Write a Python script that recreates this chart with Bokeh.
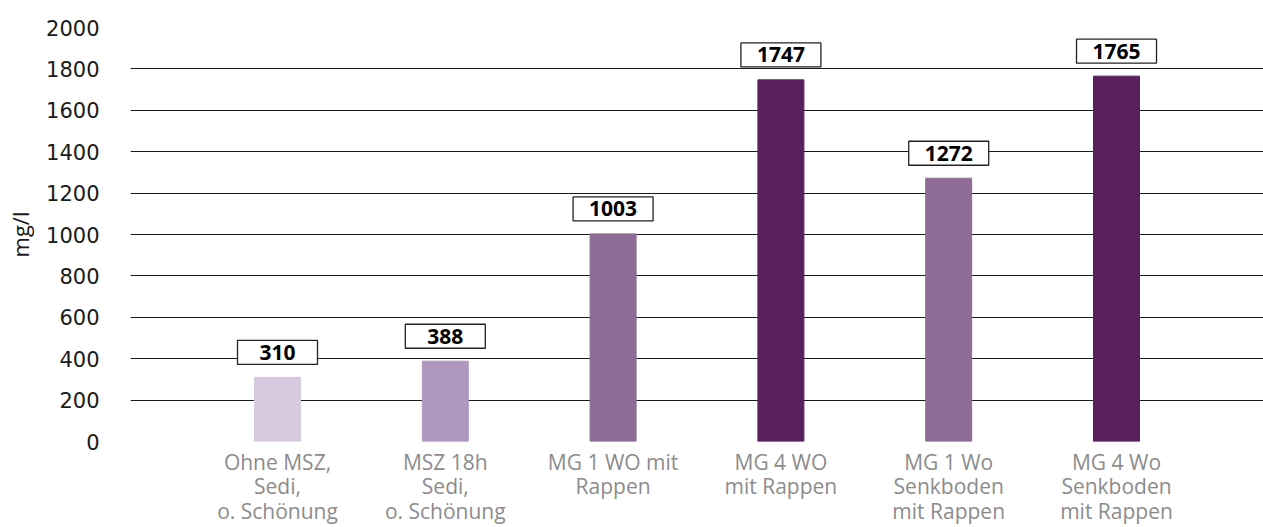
from bokeh.plotting import figure
from bokeh.models import Range1d, FixedTicker, ColumnDataSource
from bokeh.core.properties import value
from bokeh.embed import file_html
from bokeh.resources import INLINE

categories = ["Ohne MSZ,\nSedi,\no. Schönung", "MSZ 18h\nSedi,\no. Schönung",
              "MG 1 WO mit\nRappen", "MG 4 WO\nmit Rappen",
              "MG 1 Wo\nSenkboden\nmit Rappen", "MG 4 Wo\nSenkboden\nmit Rappen"]
values = [310, 388, 1003, 1747, 1272, 1765]
colors = ["#D7CADF", "#AF98BE", "#8E6C96", "#5A1F5F", "#8E6C96", "#5A1F5F"]
y_ticks = [0, 200, 400, 600, 800, 1000, 1200, 1400, 1600, 1800, 2000]

FONT = "Open Sans"
W, H = 1263, 527
ML, MR, MT, MB = 130, 0, 27, 85
plot_h = H - MT - MB
ymax = 2000
px = ymax / plot_h  # data units per pixel

xs = list(range(len(values)))
src = ColumnDataSource(dict(x=xs, top=values, color=colors,
                            ly=[v + 25 * px for v in values],
                            txt=[str(v) for v in values]))

p = figure(width=W, height=H, output_backend="svg", toolbar_location=None,
           x_range=Range1d(-0.876, 5.876), y_range=Range1d(0, ymax),
           min_border_left=ML, min_border_right=MR, min_border_top=MT, min_border_bottom=MB)
p.outline_line_color = None
p.background_fill_color = "white"

p.vbar(x="x", top="top", bottom=0, width=0.274, color="color", source=src)
p.rect(x="x", y="ly", width=80, height=24, width_units="screen", height_units="screen",
       fill_color="white", line_color="#222222", line_width=1.3, source=src)
p.text(x="x", y="ly", text="txt", text_align="center", text_baseline="middle",
       text_font=value(FONT), text_font_style="bold", text_font_size="21px",
       text_color="black", source=src)

p.xgrid.grid_line_color = None
p.ygrid.grid_line_color = "#1a1a1a"
p.ygrid.grid_line_width = 1
p.ygrid.ticker = FixedTicker(ticks=y_ticks)

p.yaxis.ticker = FixedTicker(ticks=y_ticks)
p.yaxis.axis_line_color = None
p.yaxis.major_tick_line_color = None
p.yaxis.minor_tick_line_color = None
p.yaxis.major_label_standoff = 25
p.yaxis.major_label_text_font = "DejaVu Sans"
p.yaxis.major_label_text_font_size = "21px"
p.yaxis.major_label_text_color = "#1a1a1a"
p.yaxis.axis_label = "mg/l"
p.yaxis.axis_label_text_font = FONT
p.yaxis.axis_label_text_font_size = "22px"
p.yaxis.axis_label_text_font_style = "normal"
p.yaxis.axis_label_text_color = "#1a1a1a"
p.yaxis.axis_label_standoff = 8

p.xaxis.ticker = FixedTicker(ticks=xs)
p.xaxis.major_label_overrides = {i: c for i, c in enumerate(categories)}
p.xaxis.axis_line_color = None
p.xaxis.major_tick_line_color = None
p.xaxis.minor_tick_line_color = None
p.xaxis.major_label_standoff = 0
p.xaxis.major_label_text_font = FONT
p.xaxis.major_label_text_font_size = "21px"
p.xaxis.major_label_text_color = "#8c8c8c"
p.xaxis.major_label_text_line_height = 0.88

open("out.html", "w").write(file_html(p, INLINE))
